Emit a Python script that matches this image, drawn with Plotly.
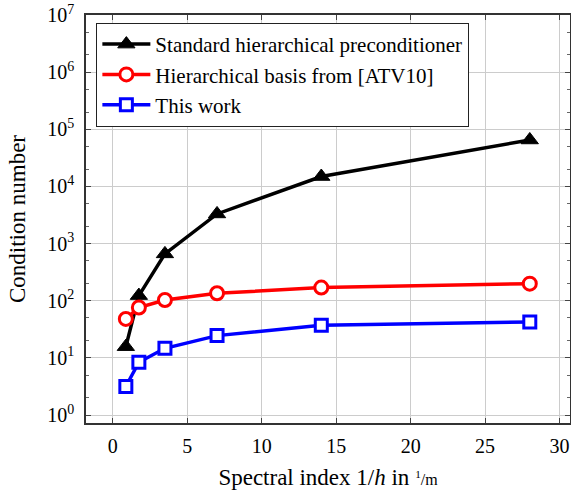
import plotly.graph_objects as go

x_vals = [0.875, 1.75, 3.5, 7, 14, 28]
standard = [15.7, 123, 660, 3300, 14900, 65000]
atv10 = [48, 76, 103, 135, 170, 199]
this_work = [3.15, 8.4, 14.7, 24.5, 37.3, 42.6]

names = ["Standard hierarchical preconditioner", "Hierarchical basis from [ATV10]", "This work"]
x_ticks = [0, 5, 10, 15, 20, 25, 30]
y_tickvals = [1, 10, 100, 1e3, 1e4, 1e5, 1e6, 1e7]
y_ticktext = ["10<sup>%d</sup>" % i for i in range(8)]

FONT = "Liberation Serif"

fig = go.Figure()
fig.add_trace(go.Scatter(x=x_vals, y=standard, name=names[0], mode="lines+markers",
                         line=dict(color="black", width=3.5),
                         marker=dict(symbol="triangle-up", size=15, color="black",
                                     line=dict(color="black", width=1))))
fig.add_trace(go.Scatter(x=x_vals, y=atv10, name=names[1], mode="lines+markers",
                         line=dict(color="#ff0000", width=3.5),
                         marker=dict(symbol="circle", size=13, color="white",
                                     line=dict(color="#ff0000", width=3))))
fig.add_trace(go.Scatter(x=x_vals, y=this_work, name=names[2], mode="lines+markers",
                         line=dict(color="#0000ff", width=3.5),
                         marker=dict(symbol="square", size=12, color="white",
                                     line=dict(color="#0000ff", width=3))))

fig.update_layout(
    width=571, height=492,
    margin=dict(l=86, r=1, t=15, b=69),
    paper_bgcolor="white", plot_bgcolor="white",
    font=dict(family=FONT, size=20, color="black"),
    showlegend=True,
    legend=dict(x=0.021, y=0.981, xanchor="left", yanchor="top",
                bgcolor="white", bordercolor="#222", borderwidth=1.2,
                font=dict(family=FONT, size=21), tracegroupgap=0,
                itemwidth=48),
)
fig.update_xaxes(range=[-1.8, 30.7], tickvals=x_ticks, ticks="inside", ticklen=5,
                 tickcolor="#444", showline=True, linecolor="#333", linewidth=1.5,
                 mirror="allticks", showgrid=True, gridcolor="#cccccc", gridwidth=1,
                 zeroline=False, tickfont=dict(size=20), automargin=False,
                 ticklabelstandoff=4,
                 title=dict(text="Spectral index 1/<i>h</i> in <span style='font-size:16px'><sup>1</sup>/m</span>",
                            font=dict(size=23), standoff=13))
fig.update_yaxes(type="log", range=[-0.14, 7], tickvals=y_tickvals, ticktext=y_ticktext,
                 ticks="inside", ticklen=5, tickcolor="#444",
                 showline=True, linecolor="#333", linewidth=1.5,
                 mirror="allticks", showgrid=True, gridcolor="#cccccc", gridwidth=1,
                 zeroline=False, tickfont=dict(size=20), automargin=False,
                 ticklabelstandoff=6,
                 minor=dict(ticks="inside", ticklen=3, tickcolor="#666", showgrid=False),
                 title=dict(text="Condition number", font=dict(size=23)))

fig.write_html("out.html", config={"displayModeBar": False},
               post_script="document.body.style.margin='0';document.body.style.overflow='hidden';")
